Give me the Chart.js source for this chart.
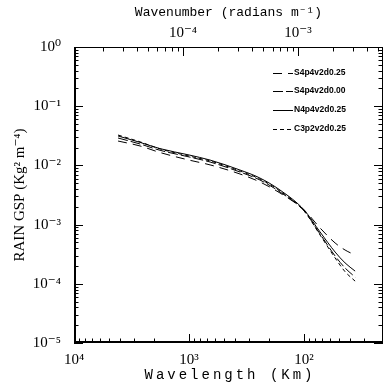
<!DOCTYPE html>
<html>
<head>
<meta charset="utf-8">
<script src="https://cdn.jsdelivr.net/npm/chart.js@4.4.1/dist/chart.umd.min.js"></script>
<style>
html,body{margin:0;padding:0;background:#fff;}
#wrap{width:385px;height:384px;position:relative;}
</style>
</head>
<body>
<div id="wrap"><canvas id="c" width="385" height="384"></canvas></div>
<script>
// Wavelength samples (km)
const wavelengthKm = [4140, 2667, 1786, 1000, 656, 361, 242, 162, 100, 72.6, 53.7, 44, 36];
// Series (Kg^2 m^-4)
const s4p4v2d025 = [0.0258, 0.0213, 0.0165, 0.0123, 0.0102, 0.00716, 0.00525, 0.00342, 0.00177, 0.000877, 0.000489, 0.000372, 0.000306];
const s4p4v2d000 = [0.0290, 0.0230, 0.0180, 0.0139, 0.0114, 0.00774, 0.00567, 0.00356, 0.00170, 0.000693, 0.000295, 0.000185, 0.000130];
const n4p4v2d025 = [0.0314, 0.0245, 0.0192, 0.0150, 0.0123, 0.00836, 0.00612, 0.00384, 0.00177, 0.000750, 0.000344, 0.000225, 0.000164];
const c3p2v2d025 = [0.0326, 0.0250, 0.0190, 0.0144, 0.0119, 0.00804, 0.00589, 0.00370, 0.00170, 0.000667, 0.000273, 0.000160, 0.000111];
const seriesNames = ['S4p4v2d0.25', 'S4p4v2d0.00', 'N4p4v2d0.25', 'C3p2v2d0.25'];
const seriesDash = [[9,6], [10,3], [], [4,3]];
// axis ranges
const xRangeKm = [20.6, 10000];
const yRange = [1e-5, 1];
const wavenumberPerKm = 0.1128; // wavenumber = this / wavelength(km)
const xTickLabels = [10000, 1000, 100];
const topTickLabels = [1e-4, 1e-3];
const yTickLabels = [1, 0.1, 0.01, 0.001, 0.0001, 0.00001];
const xTitle = 'Wavelength (Km)';

const supMap = {'-':'⁻','0':'⁰','1':'¹','2':'²','3':'³','4':'⁴','5':'⁵','6':'⁶','7':'⁷','8':'⁸','9':'⁹'};
function pow10Label(v){
  const e = Math.round(Math.log10(v));
  return '10' + String(e).split('').map(c=>supMap[c]).join('');
}
function isIn(list, v){ return list.some(t => Math.abs(Math.log10(t) - Math.log10(v)) < 1e-6); }

const seriesVals = [s4p4v2d025, s4p4v2d000, n4p4v2d025, c3p2v2d025];
const datasets = seriesVals.map((arr, i) => ({
  label: seriesNames[i],
  data: wavelengthKm.map((x, j) => ({x: x, y: arr[j]})),
  borderColor: '#000',
  borderWidth: 1,
  borderDash: seriesDash[i],
  pointRadius: 0,
  cubicInterpolationMode: 'monotone',
  fill: false,
  xAxisID: 'x',
  yAxisID: 'y'
}));

const serif = "'Liberation Serif', 'DejaVu Serif', serif";
const mono = "'Liberation Mono', 'DejaVu Sans Mono', monospace";

function logTicks(scale, min, max, cb){
  const e0 = Math.floor(Math.log10(min)) , e1 = Math.ceil(Math.log10(max));
  for (let e = e0; e <= e1; e++){
    for (let m = 1; m <= 9; m++){
      const v = m * Math.pow(10, e);
      if (v < min * 0.9999 || v > max * 1.0001) continue;
      cb(scale.getPixelForValue(v), m === 1);
    }
  }
}

const frame = {
  id: 'frame',
  afterDatasetsDraw(chart){
    const {ctx, chartArea: a, scales} = chart;
    ctx.save();
    ctx.strokeStyle = '#000';
    ctx.lineWidth = 1;
    ctx.setLineDash([]);
    ctx.strokeRect(a.left + 0.5, a.top + 0.5, a.right - a.left - 1, a.bottom - a.top - 1);
    ctx.beginPath();
    const maj = 9, mnr = 4.5;
    logTicks(scales.y, yRange[0], yRange[1], (p, major) => {
      const L = major ? maj : mnr;
      ctx.moveTo(a.left, Math.round(p) + 0.5); ctx.lineTo(a.left + L, Math.round(p) + 0.5);
      ctx.moveTo(a.right, Math.round(p) + 0.5); ctx.lineTo(a.right - L, Math.round(p) + 0.5);
    });
    logTicks(scales.x, xRangeKm[0], xRangeKm[1], (p, major) => {
      const L = major ? maj : mnr;
      ctx.moveTo(Math.round(p) + 0.5, a.bottom); ctx.lineTo(Math.round(p) + 0.5, a.bottom - L);
    });
    const t = scales.x2;
    logTicks(t, t.min, t.max, (p, major) => {
      const L = major ? maj : mnr;
      ctx.moveTo(Math.round(p) + 0.5, a.top); ctx.lineTo(Math.round(p) + 0.5, a.top + L);
    });
    ctx.stroke();
    ctx.lineWidth = 2;
    ctx.beginPath();
    ctx.moveTo(a.left, a.bottom - 1); ctx.lineTo(a.right, a.bottom - 1);
    ctx.moveTo(a.left + 1, a.top); ctx.lineTo(a.left + 1, a.bottom);
    ctx.stroke();
    // bottom axis title
    ctx.fillStyle = '#000';
    ctx.font = "14px " + mono;
    ctx.letterSpacing = '3px';
    ctx.textAlign = 'left';
    ctx.textBaseline = 'middle';
    const tw = ctx.measureText(xTitle).width;
    ctx.fillText(xTitle, (a.left + a.right) / 2 - tw / 2 + 1.5, 375);
    ctx.letterSpacing = '0px';
    // legend
    const lx0 = 273, lx1 = 293, ly = [73, 91, 110, 129];
    ctx.lineWidth = 1;
    ctx.font = "bold 8.5px 'Liberation Sans', Arial, sans-serif";
    chart.data.datasets.forEach((ds, i) => {
      ctx.setLineDash(ds.borderDash);
      ctx.beginPath();
      ctx.moveTo(lx0, ly[i] + 0.5); ctx.lineTo(lx1, ly[i] + 0.5);
      ctx.stroke();
      ctx.fillText(ds.label, lx1 + 1, ly[i]);
    });
    ctx.restore();
  }
};

new Chart(document.getElementById('c'), {
  type: 'line',
  data: {datasets},
  options: {
    responsive: false,
    animation: false,
    layout: {padding: {left: 0, right: 2, top: 0, bottom: 0}},
    plugins: {legend: {display: false}, tooltip: {enabled: false}},
    scales: {
      x: {
        type: 'logarithmic', position: 'bottom', reverse: true,
        min: xRangeKm[0], max: xRangeKm[1],
        grid: {display: false}, border: {display: false},
        afterFit(s){ s.height = 41; },
        ticks: {
          autoSkip: false, maxRotation: 0, padding: 0,
          color: '#000', font: {family: serif, size: 15},
          callback(v){ return isIn(xTickLabels, v) ? pow10Label(v) : ''; }
        },
        title: {display: false}
      },
      x2: {
        type: 'logarithmic', position: 'top',
        min: wavenumberPerKm / xRangeKm[1], max: wavenumberPerKm / xRangeKm[0],
        grid: {display: false}, border: {display: false},
        afterFit(s){ s.height = 47; },
        ticks: {
          autoSkip: false, maxRotation: 0, padding: -3,
          color: '#000', font: {family: serif, size: 15},
          callback(v){ return isIn(topTickLabels, v) ? pow10Label(v) : ''; }
        },
        title: {display: true, text: 'Wavenumber (radians m⁻¹)', color: '#000', font: {family: mono, size: 13}, padding: {top: 5, bottom: 0}}
      },
      y: {
        type: 'logarithmic', position: 'left',
        min: yRange[0], max: yRange[1],
        grid: {display: false}, border: {display: false},
        afterFit(s){ s.width = 74; },
        ticks: {
          autoSkip: false, padding: 5,
          color: '#000', font: {family: serif, size: 15},
          callback(v){ return isIn(yTickLabels, v) ? pow10Label(v) : ''; }
        },
        title: {display: true, text: 'RAIN GSP (Kg² m⁻⁴)', color: '#000', font: {family: serif, size: 15}, padding: {top: 11, bottom: 0}}
      }
    }
  },
  plugins: [frame]
});
</script>
</body>
</html>
